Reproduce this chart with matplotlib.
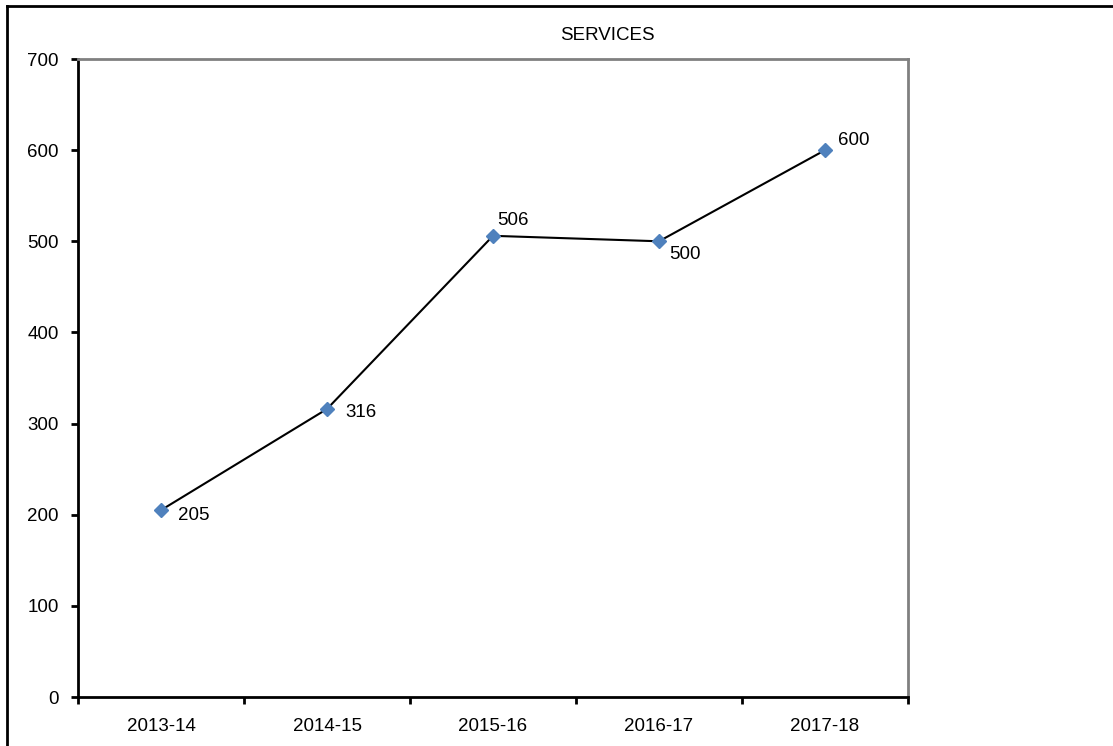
import matplotlib
matplotlib.use("Agg")
import matplotlib.pyplot as plt
from matplotlib.lines import Line2D

categories = ["2013-14", "2014-15", "2015-16", "2016-17", "2017-18"]
values = [205, 316, 506, 500, 600]
label_offsets_px = [(17, -5), (18, -4), (4, 15), (10, -13), (13, 10)]

plt.rcParams['font.family'] = ['Liberation Sans', 'DejaVu Sans']

fig = plt.figure(figsize=(11.13, 7.46), dpi=100)
ax = fig.add_axes([78/1113, 1-697/746, (908-78)/1113, (697-59)/746])

x = list(range(len(categories)))
ax.plot(x, values, color='black', lw=1.5, zorder=2)
ax.plot(x, values, linestyle='none', marker='D', markersize=7, color='#4F81BD', zorder=3)
for xi, v, (dx, dy) in zip(x, values, label_offsets_px):
    ax.annotate(str(v), (xi, v), xytext=(dx, dy), textcoords='offset pixels',
                ha='left', va='center', fontsize=13.5)

ax.set_xlim(-0.5, len(categories) - 0.5)
ax.set_ylim(0, 700)
ax.set_yticks(range(0, 701, 100))
ax.set_xticks([i - 0.5 for i in range(len(categories) + 1)])
ax.set_xticklabels([])
ax.set_xticks(x, minor=True)
ax.set_xticklabels(categories, minor=True)
ax.tick_params(axis='x', which='minor', length=0, pad=15, labelsize=13.5)
ax.tick_params(axis='x', which='major', length=5, width=2, direction='out')
ax.tick_params(axis='y', length=5, width=2, direction='out', labelsize=13.5, pad=9)

for s in ['left', 'bottom']:
    ax.spines[s].set_color('black')
    ax.spines[s].set_linewidth(2)
for s in ['top', 'right']:
    ax.spines[s].set_color('#808080')
    ax.spines[s].set_linewidth(2)

fig.text(607/1113, 1-35/746, "SERVICES", ha='center', va='center', fontsize=13.5)

fig.add_artist(Line2D([7/1113, 7/1113], [0, 1-6/746], transform=fig.transFigure, color='black', lw=2))
fig.add_artist(Line2D([7/1113, 1], [1-6/746, 1-6/746], transform=fig.transFigure, color='black', lw=2))

fig.savefig("out.png", dpi=100)
